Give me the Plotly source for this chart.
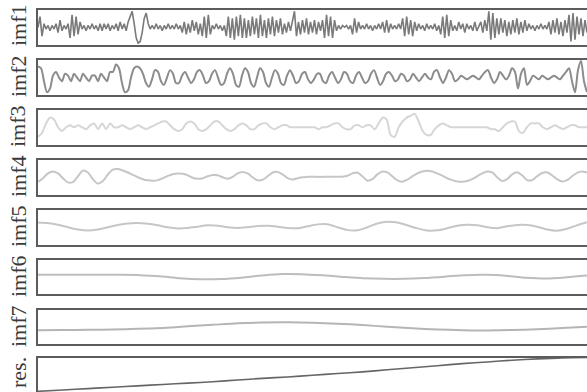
import numpy as np
import plotly.graph_objects as go

labels = ["imf1", "imf2", "imf3", "imf4", "imf5", "imf6", "imf7", "res."]

imf1 = [
    0, 6, -5,
    2, -1, 1, -2, 1, -1, 2,
    -3, 4, -2,
    1, -1, 2,
    -6, 7, -5, 6, -4, 3,
    -1, 1, -2, 1, -1, 2, -1, 1, -2, 2, -2, 2, -1, 2, -2, 1, -1,
    2, -2, 3, -1, 2, -2, 3,
    6, 9,
    2, -6, -9, -8, -3,
    5, 8,
    2, -1, 1, -1, 2, -1, 1, -2, 1, -1, 2, -1, 1, -1, 2, -1, 1,
    -3, 3, -4, 2, -3, 4, -2, 3, -4, 2, -5, 6, -6, 7, -4,
    1, -1, 2, -1, 1, -2, 1,
    -5, 6, -6, 5, -7, 6, -5, 7, -6, 5, -6, 4, -5, 6, -4, 5, -6, 7, -5, 4,
    -6, 5, -4, 6, -5, 4, -3, 5, -4,
    2, -3, 3, -2, 4,
    9, -5,
    3, -4, 4, -3, 5, -4, 3, -3, 4, -4, 3, -2, 4,
    -6, 7, -5, 6, -6, 4, -2,
    1, -1, 1, 0, 1, -1, 1,
    -4, 5, -3, 3, -1,
    1, -1, 2, -1, 1, -2, 1, -1, 2, -1,
    3, -3, 4, -3, 2,
    -1, 1, -1, 2, -1,
    5, -5, 6, -4, 4, -5, 3, -2,
    2, -1, 1, -2, 2, -1, 1, -1, 2, -2, 1,
    -4, 6, -6, 7, -5, 4, -2,
    1, -2, 3, -1, 2, -3, 2, -1, 1, -2, 3, -2, 1,
    3, -3, 4, -2,
    9, -7, 8, -6, 5,
    -4, 5, -3, 4, -5, 3, -4, 4, -3, 5, -4, 3, -3, 4, -2, 2,
    -1, 1, -2, 1, -1, 2, -1, 1, -1,
    3, -4, 4, -3, 5, -4, 3, -5, 4, -3,
    7, -8, 8, -7, 6,
    -4, 5, -5, 4, -3,
]

imf2 = [
    6, 5, -2, -8, -6, 1, 3,
    0, -2, 2, 1, -2, 2, 0, -2, 2, 0, -2, 1, 1, -2, 2, 0, -2, 3,
    3, 7, 5, -3, -8, -7, 0, 5, 6,
    5, 2, -3, -5, -1, 4, 3, -2, -4, 0, 4, 2, -3, -3, 1, 3, 0, -3, -1, 3,
    4, 1, -3, -2, 2, 4, 0, -4, -3, 2,
    5, 2, -4, -5, 1, 5, 3, -3, -5, 0,
    5, 3, -3, -5, 0, 4, 2, -3, -4, 1,
    4, 1, -3, -2, 2, 3, -1, -3, -1, 2,
    2, -2, -3, 1, 3, 0, -3, -1, 3, 2,
    -2, -3, 1, 3, 0, -3, -2, 2, 4, 0,
    -4, -2, 2, 3,
    1, -2, -1, 2, 1, -2, -1, 2, 0, -2,
    0, 2, 0, -1, 3, 4, 0, -3, 0, 4,
    2, -2, -1, 1, 0, -1, 0, 1, 0, -1,
    1, 3, 4, 0, -3, -1, 3, 1, -1, 1,
    5, 3, -6, 2, 5, -4, -2, 1, 0, -1,
    1, 0, -1, 0, 1, 0, -1, 1, 3, 5,
    -2, -8, 4, 9, -2, -8,
]

imf3 = [
    -5, -3, 2, 5, 4, 0, -2, 0, 1, 0,
    1, 0, -1, 1, 2, -1, 2, -1, 2, 0,
    0, 1, 0, -1, 0, 1, 0, -1, 0, 1,
    2, 3, 3, 1, -1, -2, -1, 2, 3, 2,
    -1, -2, -1, 1, 3, 3, 1, -1, -2, -1,
    1, 2, 1, -1, -1, 1, 2, 2, 0, -1,
    0, 1, 1, 0, 0, 0, 0, 0, 0, 0,
    -1, 0, 0, 1, 2, 2, 0, -1, -1, 1,
    1, 0, 1, 1, -1, 2, 5, 4, -4, -5,
    0, 3, 5, 6, 7, 3, -2, -4, -4, -1,
    1, 2, 1, 0, 0, 0, 0, 0, 0, 0,
    0, 0, 0, -1, -1, -2, 0, 2, 3, 3,
    -2, -3, 0, 2, 2, 2, 0, -1, 0, 1,
    0, -1, 0, 1, 1, 0, 0, 0,
]

imf4 = [
    -2.5, -0.5, 2, 3, 2, -0.5, -2.7, -2.5, 0.5, 3.5,
    2.5, -1, -3.3, -2, 1.5, 4, 4.3, 3.5, 2.5, 1.2,
    0, -1, -1.6, -1.8, -1.5, -0.5, 0.7, 1.6, 2, 1.8,
    1, -0.3, -0.8, -0.5, 0.5, 1.2, 1, 0, -0.8, 0.2,
    2, 2.8, 2, 0, -1.6, -1.3, 0.5, 2.5, 2.8, 1.5,
    -0.5, -1.2, -0.5, 0, 0.2, 0.3, 0.2, 0.2, 0.3, 0.3,
    0.2, 0.3, 0.8, 2, 2.5, 0.5, -1.8, -1, 1.5, 3,
    2.5, 0.5, -1.6, -2.3, -1.3, 0.5, 2, 3, 3.4, 3,
    2, 0.8, -0.5, -1.5, -2.2, -2.4, -2, -1, 0.5, 2,
    3, 2.5, 0, -2, -1, 1.5, 2.6, 1, -1.5, -1.5,
    0.5, 2.2, 2.6, 1, -1, -2.2, -1.5, 0.5, 2.3, 3,
    2.5,
]

imf5 = [
    2.5, 2.2, 1.3, 0, -1.2, -1.7, -1.2, 0, 1.2, 2,
    2.2, 1.8, 1, 0, -0.6, -0.4, 0.3, 1, 0.8, 0,
    -0.4, 0, 0.6, 0.8, 0.3, -0.4, -0.5, 0.5, 1.5, 1.6,
    0, -1.5, -1.6, 0, 2, 2.9, 2.5, 1, -0.6, -1.7,
    -1.6, -0.5, 0.8, 1.3, 1, 0, -0.5, 0.5, 1.2, 1.2,
    0.3, -1.2, -1.8, -0.8, 1, 2.6,
]

imf6 = [
    0.9, 0.9, 0.9, 0.9, 0.85, 0.7, 0.1, -0.9, -1.4, -1.3,
    -0.6, 0.5, 1.3, 1.2, 0.6, -0.2, -0.9, -1.2, -1.2, -0.8,
    -0.1, 0.7, 0.9, 0.4, -0.6, -1.0, -0.4, 0.5,
]

imf7 = [
    -1.8, -1.7, -1.6, -1.4, -1.1, -0.6, 0.2, 1.0, 1.8, 2.2,
    2.3, 2.1, 1.6, 0.9, 0.0, -0.8, -1.4, -1.8, -1.9, -1.7,
    -1.3, -0.7, 0.0,
]

res = [
    0.01, 0.05, 0.09, 0.13, 0.17, 0.21, 0.25, 0.29, 0.34, 0.39,
    0.43, 0.48, 0.53, 0.58, 0.64, 0.70, 0.76, 0.82, 0.87, 0.92,
    0.96, 0.99, 1.0,
]

series = [imf1, imf2, imf3, imf4, imf5, imf6, imf7, res]
colors = ["#7a7a7a", "#8c8c8c", "#d6d6d6", "#c6c6c6", "#c6c6c6", "#bdbdbd", "#b5b5b5", "#666666"]
widths = [1.6, 2.0, 2.0, 2.0, 2.0, 2.0, 2.0, 1.6]
shapes_ = ["linear", "spline", "spline", "spline", "spline", "spline", "spline", "spline"]
yranges = [[-10, 10], [-9.5, 9.5], [-9, 9], [-9, 9], [-9, 9], [-8.7, 8.7], [-9, 9], [-0.01, 1.0]]

W, H = 587, 392.0
panels_px = [(9.5, 45), (60, 95), (110, 144.5), (160, 194.5), (210, 244.5),
             (259.5, 293.5), (309.5, 344), (357.5, 392)]
label_cy = [25, 76, 126, 176, 226, 276, 326, 372]

fig = go.Figure()
layout = dict(
    width=W, height=int(H),
    margin=dict(l=38, r=0, t=0, b=0, pad=0),
    paper_bgcolor="white", plot_bgcolor="white",
    showlegend=False,
    annotations=[],
)
LC = "#5c5c5c"
for k, (vals, col, w, sh, yr, (top, bot), lab, cy) in enumerate(
        zip(series, colors, widths, shapes_, yranges, panels_px, labels, label_cy)):
    n = k + 1
    xs = "" if n == 1 else str(n)
    x = np.linspace(0, 1, len(vals))
    fig.add_trace(go.Scatter(x=x, y=vals, mode="lines",
                             line=dict(color=col, width=w, shape=sh, smoothing=0.8),
                             xaxis="x" + xs, yaxis="y" + xs, hoverinfo="skip"))
    dom = [max(0.0, 1 - bot / H), min(1.0, 1 - top / H)]
    xa = dict(domain=[0, 1], anchor="y" + xs, range=[0, 1], showline=True,
              mirror=(n != 8), linecolor=LC, linewidth=2, showgrid=False,
              zeroline=False, ticks="", showticklabels=False, fixedrange=True)
    if n == 8:
        xa["side"] = "top"
    ya = dict(domain=dom, anchor="x" + xs, range=yr, showline=True, mirror=False,
              linecolor=LC, linewidth=2, showgrid=False, zeroline=False,
              ticks="", showticklabels=False, fixedrange=True)
    layout["xaxis" + xs] = xa
    layout["yaxis" + xs] = ya
    layout["annotations"].append(dict(
        text=lab, xref="paper", yref="paper",
        x=(18 - 38) / 549.0, y=1 - cy / H,
        xanchor="center", yanchor="middle", textangle=-90, showarrow=False,
        font=dict(family="Liberation Serif", size=22, color="#3a3a3a")))

fig.update_layout(**layout)
fig.write_html(
    "out.html",
    config={"displayModeBar": False},
    post_script="document.body.style.margin='0';document.body.style.overflow='hidden';",
)
